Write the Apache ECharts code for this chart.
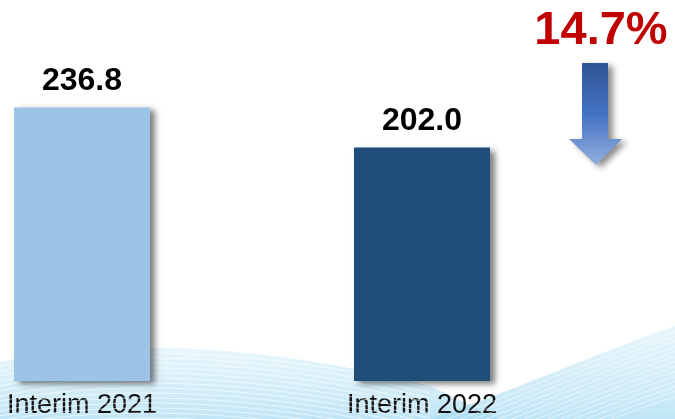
<!DOCTYPE html>
<html>
<head>
<meta charset="utf-8">
<script src="https://cdn.jsdelivr.net/npm/echarts@6/dist/echarts.min.js"></script>
<style>
  html, body { margin: 0; padding: 0; background: #ffffff; }
  #chart { width: 675px; height: 419px; }
</style>
</head>
<body>
<div id="chart"></div>
<script>
// Interim results, two periods
const categories = ['Interim 2021', 'Interim 2022'];
const values = [236.8, 202.0];
const barColors = ['#9DC3E6', '#1F4E79'];

const change = ((values[0] - values[1]) / values[0] * 100).toFixed(1) + '%';

const chart = echarts.init(document.getElementById('chart'));

function vGradient(stops) {
  return { type: 'linear', x: 0, y: 0, x2: 0, y2: 1, colorStops: stops };
}

// sample a cubic curve into a point list for the background waves
function cubic(p0, p1, p2, p3, n) {
  const pts = [];
  for (let i = 0; i <= n; i++) {
    const t = i / n, u = 1 - t;
    pts.push([
      u * u * u * p0[0] + 3 * u * u * t * p1[0] + 3 * u * t * t * p2[0] + t * t * t * p3[0],
      u * u * u * p0[1] + 3 * u * u * t * p1[1] + 3 * u * t * t * p2[1] + t * t * t * p3[1]
    ]);
  }
  return pts;
}

const waveFill = vGradient([
  { offset: 0, color: 'rgba(210,238,249,0.5)' },
  { offset: 1, color: 'rgba(165,218,241,0.7)' }
]);

const leftWave = cubic([0, 362], [100, 340], [250, 340], [430, 386], 40).concat([[500, 419], [0, 419]]);
const rightWave = cubic([430, 419], [520, 388], [600, 352], [675, 326], 40).concat([[675, 419]]);

const waveLines = [];
for (let i = 0; i < 14; i++) {
  const d = i * 5;
  waveLines.push({
    type: 'polyline', z: 1, silent: true,
    shape: { points: cubic([0, 366 + d], [100, 346 + d], [250, 346 + d], [430, 388 + d], 40) },
    style: { fill: null, stroke: 'rgba(255,255,255,0.6)', lineWidth: 1 }
  });
  waveLines.push({
    type: 'polyline', z: 1, silent: true,
    shape: { points: cubic([440, 422 + d], [520, 392 + d], [600, 356 + d], [680, 330 + d], 40) },
    style: { fill: null, stroke: 'rgba(255,255,255,0.5)', lineWidth: 1 }
  });
}

chart.setOption({
  animation: false,
  grid: { left: 82, right: 253, top: 34.4, bottom: 35 },
  xAxis: {
    type: 'category',
    data: categories,
    boundaryGap: false,
    axisLine: { show: false },
    axisTick: { show: false },
    axisLabel: {
      color: '#111',
      fontSize: 27,
      fontFamily: 'Liberation Sans, Arial, sans-serif',
      margin: 11
    }
  },
  yAxis: {
    type: 'value',
    min: 0,
    max: 300,
    show: false,
    splitLine: { show: false }
  },
  series: [{
    type: 'bar',
    z: 5,
    clip: false,
    barWidth: 136,
    data: values.map((v, i) => ({ value: v, itemStyle: { color: barColors[i] } })),
    itemStyle: {
      shadowColor: 'rgba(0,0,0,0.5)',
      shadowBlur: 6,
      shadowOffsetX: 5,
      shadowOffsetY: 3
    },
    label: {
      show: true,
      position: 'top',
      distance: 10,
      formatter: p => p.value.toFixed(1),
      color: '#000',
      fontSize: 32,
      fontWeight: 'bold',
      fontFamily: 'Liberation Sans, Arial, sans-serif'
    }
  }],
  graphic: [
    {
      type: 'polygon', z: 0, silent: true,
      shape: { points: leftWave },
      style: { fill: waveFill }
    },
    {
      type: 'polygon', z: 0, silent: true,
      shape: { points: rightWave },
      style: { fill: waveFill }
    },
    ...waveLines,
    {
      type: 'text', z: 10,
      style: {
        text: change,
        x: 601, y: 31,
        align: 'center', verticalAlign: 'middle',
        fill: '#C00000',
        font: 'bold 47px "Liberation Sans", Arial, sans-serif'
      }
    },
    {
      type: 'polygon', z: 10,
      shape: {
        points: [[582, 63], [608, 63], [608, 139], [622, 139], [596, 165], [569, 139], [582, 139]]
      },
      style: {
        fill: vGradient([
          { offset: 0, color: '#2E5493' },
          { offset: 0.5, color: '#4472C4' },
          { offset: 1, color: '#93AEDE' }
        ]),
        shadowColor: 'rgba(0,0,0,0.45)',
        shadowBlur: 6,
        shadowOffsetX: 5,
        shadowOffsetY: 3
      }
    }
  ]
});
</script>
</body>
</html>
